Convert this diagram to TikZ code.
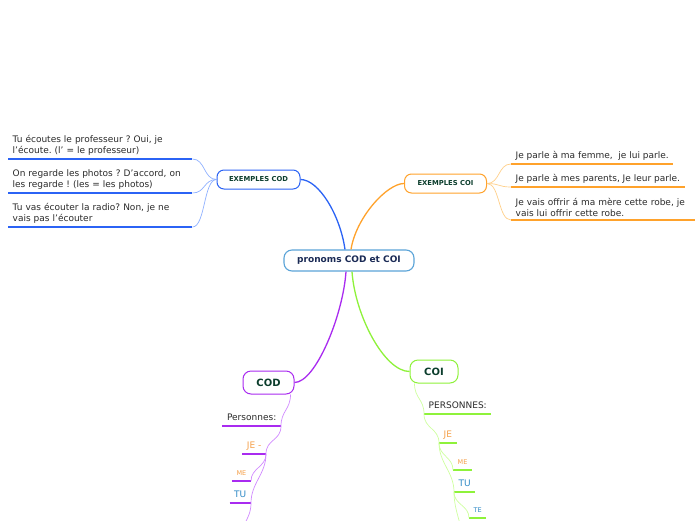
\documentclass[tikz,border=0pt]{standalone}
\usepackage{fontspec}
\setmainfont{DejaVu Sans}
\definecolor{rootblue}{HTML}{5BA4D8}
\definecolor{rootink}{HTML}{1A2A55}
\definecolor{topicink}{HTML}{0B3D2C}
\definecolor{noteink}{HTML}{2B2B2B}
\definecolor{codblue}{HTML}{2B63F5}
\definecolor{codsky}{HTML}{8FB1FF}
\definecolor{coiorange}{HTML}{FFA22B}
\definecolor{coipeach}{HTML}{FFD08A}
\definecolor{codpurple}{HTML}{A92BF0}
\definecolor{codlilac}{HTML}{D18BFF}
\definecolor{coigreen}{HTML}{8EF23A}
\definecolor{coilime}{HTML}{CFFFA0}
\definecolor{jeorange}{HTML}{F5A04A}
\definecolor{tublue}{HTML}{2F8AC6}
\frenchspacing

\begin{document}
\begin{tikzpicture}[
  x=1pt,y=-1pt,
  rootbox/.style={draw=rootblue,line width=1.1pt,rounded corners=8pt,fill=white,minimum width=130pt,minimum height=21pt,text=rootink,font=\fontsize{9}{11}\selectfont\bfseries},
  topicbox/.style={draw=#1,line width=1pt,rounded corners=7pt,fill=white,minimum height=19pt,text=topicink,font=\fontsize{6.8}{8}\selectfont\bfseries},
  mainbox/.style={draw=#1,line width=1pt,rounded corners=8pt,fill=white,minimum height=23pt,text=topicink,font=\fontsize{10}{12}\selectfont\bfseries},
  notetext/.style={inner xsep=4.5pt,inner ysep=3pt,text=noteink,font=\fontsize{9}{11}\selectfont},
  blocknote/.style={notetext,text width=175pt,align=left,anchor=south west},
  wordnote/.style={notetext,text depth=2.2pt},
  smallnote/.style={font=\fontsize{6.5}{8}\selectfont},
  branch/.style={draw=#1,line width=1.3pt},
  twig/.style={draw=#1,line width=0.7pt},
  uline/.style={draw=#1,line width=1.7pt}
]
  \useasboundingbox (0,0) rectangle (696,520);
  \fill[white] (0,0) rectangle (696,520);
  \clip (0,0) rectangle (696,520);

  % centre and the four topics
  \node[rootbox] (root) at (349,260.5) {pronoms COD et COI};
  \node[topicbox=codblue,minimum width=83pt] (excod) at (258.5,179.5) {EXEMPLES COD};
  \node[topicbox=coiorange,minimum width=82pt] (excoi) at (445.5,183.5) {EXEMPLES COI};
  \node[mainbox=codpurple,minimum width=51pt] (cod) at (268.5,382.5) {COD};
  \node[mainbox=coigreen,minimum width=48pt] (coi) at (434,371.5) {COI};

  \draw[branch=codblue] ([xshift=-4pt]root.north) .. controls +(-5,-35) and +(18,0) .. (excod.east);
  \draw[branch=coiorange] ([xshift=2pt]root.north) .. controls +(5,-32) and +(-17,0) .. (excoi.west);
  \draw[branch=codpurple] ([xshift=-3pt]root.south) .. controls +(-3,44) and +(21,0) .. (cod.east);
  \draw[branch=coigreen] ([xshift=3pt]root.south) .. controls +(3,44) and +(-25,0) .. (coi.west);

  % exemples COD
  \node[blocknote] (ecoute) at (8,159)
    {Tu écoutes le professeur ? Oui, je\\l’écoute. (l’ = le professeur)};
  \node[blocknote] (photos) at (8,193)
    {On regarde les photos ? D’accord, on\\les regarde ! (les = les photos)};
  \node[blocknote] (radio) at (8,227)
    {Tu vas écouter la radio? Non, je ne\\vais pas l’écouter};
  \draw[uline=codblue] (ecoute.south west) -- (ecoute.south east);
  \draw[uline=codblue] (photos.south west) -- (photos.south east);
  \draw[uline=codblue] (radio.south west) -- (radio.south east);
  \draw[twig=codsky] (excod.west) .. controls +(-13,0) and +(13,0) .. (ecoute.south east);
  \draw[twig=codsky] (excod.west) .. controls +(-13,0) and +(13,0) .. (photos.south east);
  \draw[twig=codsky] (excod.west) .. controls +(-13,0) and +(13,0) .. (radio.south east);

  % exemples COI
  \node[wordnote,anchor=south west] (femme) at (511,164) {Je parle à ma femme,~ je lui parle.};
  \node[wordnote,anchor=south west] (parents) at (511,187) {Je parle à mes parents, Je leur parle.};
  \node[blocknote] (robe) at (511,220)
    {Je vais offrir á ma mère cette robe, je\\vais lui offrir cette robe.};
  \draw[uline=coiorange] (femme.south west) -- (femme.south east);
  \draw[uline=coiorange] (parents.south west) -- (parents.south east);
  \draw[uline=coiorange] (robe.south west) -- (robe.south east);
  \draw[twig=coipeach] (excoi.east) .. controls +(13,0) and +(-13,0) .. (femme.south west);
  \draw[twig=coipeach] (excoi.east) .. controls +(13,0) and +(-13,0) .. (parents.south west);
  \draw[twig=coipeach] (excoi.east) .. controls +(13,0) and +(-13,0) .. (robe.south west);

  % COD
  \node[wordnote,anchor=south east] (perscod) at (281,426) {Personnes:};
  \node[wordnote,text=jeorange,anchor=south east] (jecod) at (266,454) {JE -};
  \node[wordnote,smallnote,text=jeorange,anchor=south east] (mecod) at (251,481) {ME};
  \node[wordnote,text=tublue,anchor=south east] (tucod) at (251,503) {TU};
  \coordinate (codmore) at (238,545);
  \foreach \n in {perscod,jecod,mecod,tucod}
    \draw[uline=codpurple] (\n.south west) -- (\n.south east);
  \draw[twig=codlilac] ([xshift=-4pt]cod.south east) .. controls +(0,15) and +(0,-15) .. (perscod.south east);
  \draw[twig=codlilac] (perscod.south east) .. controls +(0,15) and +(0,-15) .. (jecod.south east);
  \draw[twig=codlilac] (jecod.south east) .. controls +(0,13) and +(0,-13) .. (mecod.south east);
  \draw[twig=codlilac] (jecod.south east) .. controls +(0,20) and +(0,-20) .. (tucod.south east);
  \draw[twig=codlilac] (tucod.south east) .. controls +(0,18) and +(0,-18) .. (codmore);

  % COI
  \node[wordnote,anchor=south west] (perscoi) at (424,414) {PERSONNES:};
  \node[wordnote,text=jeorange,anchor=south west] (jecoi) at (439,443) {JE};
  \node[wordnote,smallnote,text=jeorange,anchor=south west] (mecoi) at (453,470) {ME};
  \node[wordnote,text=tublue,anchor=south west] (tucoi) at (454,492) {TU};
  \node[wordnote,smallnote,text=tublue,anchor=south west] (tecoi) at (469,518) {TE};
  \coordinate (coimore) at (463,545);
  \foreach \n in {perscoi,jecoi,mecoi,tucoi,tecoi}
    \draw[uline=coigreen] (\n.south west) -- (\n.south east);
  \draw[twig=coilime] ([xshift=5pt]coi.south west) .. controls +(0,15) and +(0,-15) .. (perscoi.south west);
  \draw[twig=coilime] (perscoi.south west) .. controls +(0,15) and +(0,-15) .. (jecoi.south west);
  \draw[twig=coilime] (jecoi.south west) .. controls +(0,13) and +(0,-13) .. (mecoi.south west);
  \draw[twig=coilime] (jecoi.south west) .. controls +(0,20) and +(0,-20) .. (tucoi.south west);
  \draw[twig=coilime] (tucoi.south west) .. controls +(0,13) and +(0,-13) .. (tecoi.south west);
  \draw[twig=coilime] (tucoi.south west) .. controls +(0,20) and +(0,-20) .. (coimore);
\end{tikzpicture}
\end{document}
